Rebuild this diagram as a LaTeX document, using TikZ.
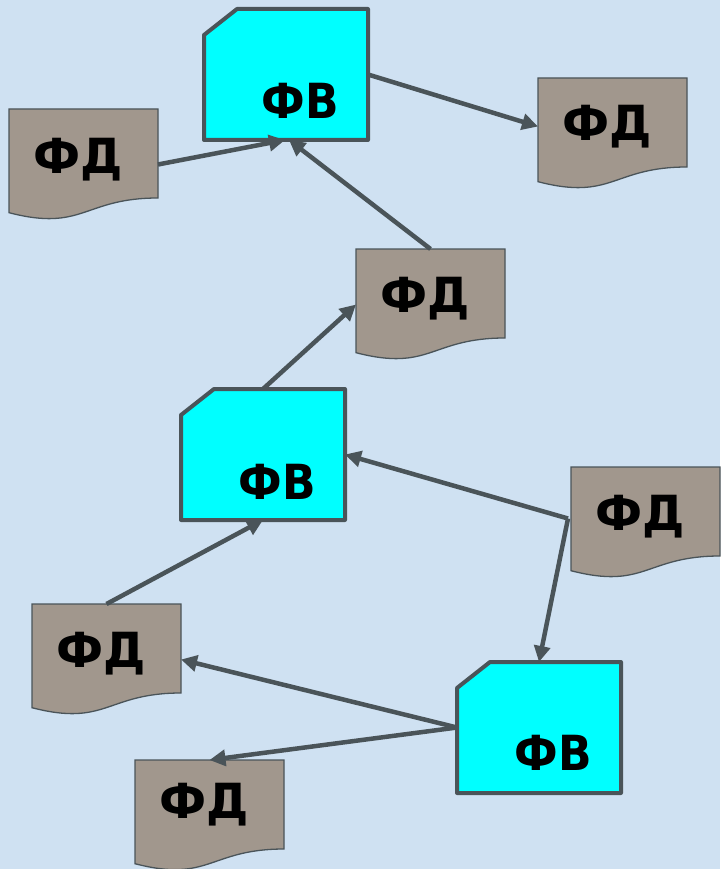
\documentclass[tikz,border=0pt]{standalone}
\usepackage{fontspec}
\setmainfont{DejaVu Sans}
\usetikzlibrary{arrows.meta,calc}
\definecolor{bgblue}{RGB}{207,225,242}
\definecolor{cardcyan}{RGB}{0,255,255}
\definecolor{docgray}{RGB}{161,151,141}
\definecolor{edgegray}{RGB}{74,84,89}
\tikzset{
  cardshape/.style={fill=cardcyan, draw=edgegray, line width=4pt, line join=round},
  docshape/.style={fill=docgray, draw=edgegray, line width=1.3pt},
  boxnode/.style={inner sep=0pt, outer sep=0pt},
  lbl/.style={inner sep=0pt, anchor=base, font=\fontsize{44}{44}\selectfont\bfseries, text=black, yscale=1.1},
  doclbl/.style={lbl, xscale=1.08},
  conn/.style={draw=edgegray, line width=4.5pt, -{Triangle[length=16pt,width=16pt]}}
}
% card: name, left x, top y, text baseline offset
\newcommand\mycard[4]{%
  \path[cardshape] (#2,#3+26) -- (#2+33,#3) -- (#2+164,#3) -- (#2+164,#3+131) -- (#2,#3+131) -- cycle;
  \node[boxnode, minimum width=164pt, minimum height=131pt] (#1) at (#2+82,#3+65.5) {};
  \node[lbl] (#1t) at (#2+96.5,#3+#4) {ФВ};
}
% document: name, left x, top y, text baseline offset
\newcommand\mydoc[4]{%
  \path[docshape] (#2,#3) -- (#2+149,#3) -- (#2+149,#3+89) .. controls (#2+74.5,#3+89) and (#2+74.5,#3+123) .. (#2,#3+103.7) -- cycle;
  \node[boxnode, minimum width=149pt, minimum height=111pt] (#1) at (#2+74.5,#3+55.5) {};
  \node[doclbl] (#1t) at (#2+69,#3+#4) {ФД};
}
\begin{document}
\begin{tikzpicture}[x=1pt,y=-1pt]
  \fill[bgblue] (0,0) rectangle (720,869);
  \useasboundingbox (0,0) rectangle (720,869);
  \mydoc{dA}{9}{109}{65}
  \mydoc{dB}{538}{78}{63}
  \mydoc{dC}{356}{249}{63}
  \mydoc{dD}{571}{467}{63}
  \mydoc{dE}{32}{604}{63}
  \mydoc{dF}{135}{760}{58}
  \mycard{cA}{204}{9}{110}
  \mycard{cB}{181}{389}{110}
  \mycard{cC}{457}{662}{108}
  \coordinate (dDout) at ($(dD.west)+(-3,-4)$);
  \draw[conn] (dA.east) -- ($(cA.south)+(-1,0)$);
  \draw[conn] (dC.north) -- ($(cA.south)+(3,0)$);
  \draw[conn] (cA.east) -- ($(dB.west)+(0,-7)$);
  \draw[conn] (cB.north) -- (dC.west);
  \draw[conn] (dDout) -- (cB.east);
  \draw[conn] (dDout) -- (cC.north);
  \draw[conn] (dE.north) -- (cB.south);
  \draw[conn] (cC.west) -- (dE.east);
  \draw[conn] (cC.west) -- (dF.north);
\end{tikzpicture}
\end{document}
